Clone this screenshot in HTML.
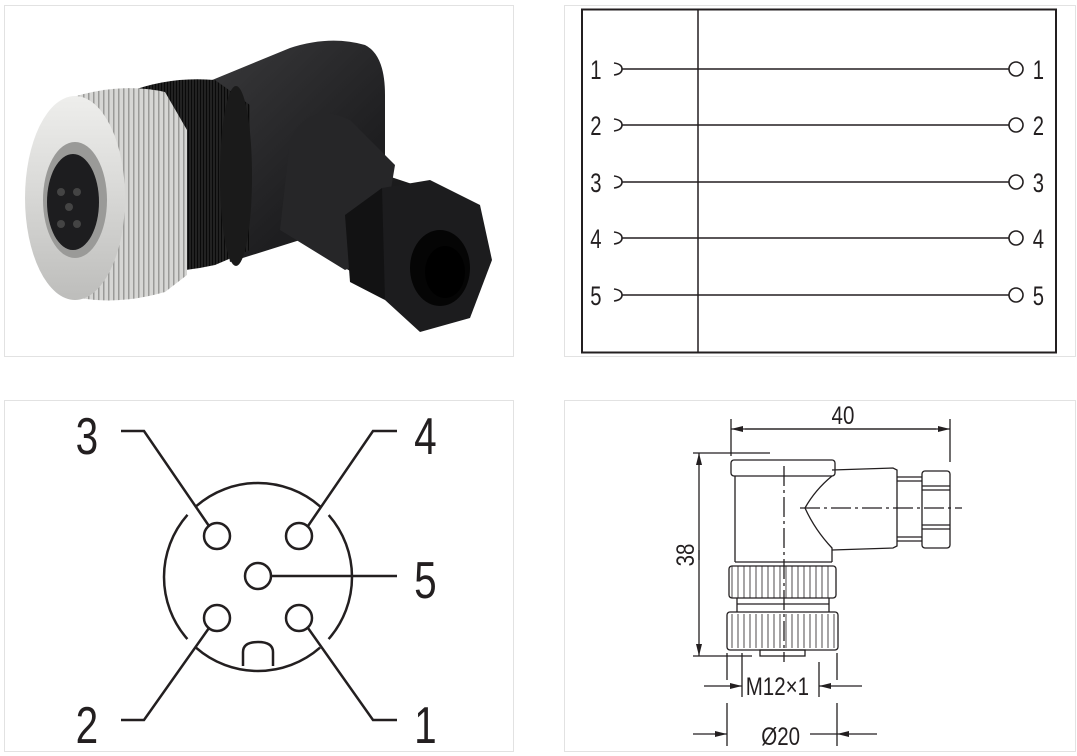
<!DOCTYPE html>
<html><head><meta charset="utf-8"><style>
html,body{margin:0;padding:0;background:#fff;}
svg{display:block;}
text{font-family:"Liberation Sans",sans-serif;fill:#231f20;}
</style></head><body>
<svg width="1077" height="756" viewBox="0 0 1077 756" xmlns="http://www.w3.org/2000/svg">
<defs>
<linearGradient id="silver" x1="0" y1="0" x2="0" y2="1">
<stop offset="0" stop-color="#eeeeec"/><stop offset="0.4" stop-color="#dcdcda"/><stop offset="1" stop-color="#bdbdbb"/>
</linearGradient>
<linearGradient id="blk" x1="0" y1="0" x2="1" y2="1">
<stop offset="0" stop-color="#3a3a3c"/><stop offset="0.5" stop-color="#1f1f21"/><stop offset="1" stop-color="#111"/>
</linearGradient>
<pattern id="knurl" width="5" height="10" patternUnits="userSpaceOnUse">
<rect width="5" height="10" fill="#d6d6d4"/><rect x="3" width="1.5" height="10" fill="#9a9a98"/>
</pattern>
<pattern id="knurlb" width="3" height="10" patternUnits="userSpaceOnUse">
<rect width="3" height="10" fill="#222"/><rect x="2" width="1" height="10" fill="#0a0a0a"/>
</pattern>
<marker id="ar" markerWidth="12" markerHeight="8" refX="12" refY="4" orient="auto" markerUnits="userSpaceOnUse">
<path d="M0,1 L12,4 L0,7 z" fill="#231f20"/>
</marker>
</defs>

<rect x="4.5" y="5.5" width="509" height="351" fill="#fff" stroke="#e2e2e2"/>
<rect x="564.5" y="5.5" width="511" height="351" fill="#fff" stroke="#e2e2e2"/>
<rect x="4.5" y="400.5" width="509" height="351" fill="#fff" stroke="#e2e2e2"/>
<rect x="564.5" y="400.5" width="511" height="351" fill="#fff" stroke="#e2e2e2"/>

<!-- PHOTO -->
<g>
<path d="M200,85 L290,48 Q330,35 365,45 Q385,55 385,95 L385,175 L430,190 L470,230 L430,300 L400,300 L345,268 Q330,255 300,240 L230,262 Z" fill="url(#blk)"/>
<path d="M290,140 Q310,100 350,120 L395,165 L380,255 L345,270 L280,230 Z" fill="#262628"/>
<path d="M382,188 L430,180 L480,205 L492,260 L470,318 L420,332 L385,300 L372,240 Z" fill="#1c1c1e"/>
<path d="M345,215 L382,188 L385,300 L350,282 Z" fill="#121213"/>
<ellipse cx="440" cy="268" rx="30" ry="38" fill="#050505"/>
<ellipse cx="445" cy="272" rx="20" ry="26" fill="#000"/>
<path d="M128,92 Q170,76 215,80 L250,105 L250,250 L215,265 Q170,275 130,270 Z" fill="url(#knurlb)"/>
<ellipse cx="236" cy="176" rx="16" ry="90" fill="#1a1a1a"/>
<path d="M70,98 Q120,82 165,92 L187,130 L187,275 L165,292 Q120,305 80,298 Z" fill="url(#knurl)"/>
<ellipse cx="75" cy="198" rx="50" ry="102" fill="url(#silver)"/>
<ellipse cx="75" cy="200" rx="32" ry="58" fill="#9a9a98"/>
<ellipse cx="73" cy="202" rx="26" ry="48" fill="#1d1d1f"/>
<circle cx="61" cy="192" r="4" fill="#444"/><circle cx="77" cy="192" r="4" fill="#444"/>
<circle cx="69" cy="207" r="4" fill="#444"/><circle cx="61" cy="224" r="4" fill="#444"/><circle cx="77" cy="224" r="4" fill="#444"/>
</g>

<!-- WIRING -->
<rect x="582" y="9.5" width="474" height="343" fill="none" stroke="#231f20" stroke-width="2"/>
<line x1="698" y1="9" x2="698" y2="353" stroke="#231f20" stroke-width="1.5"/>
<g stroke="#231f20" stroke-width="1.6" fill="none">
<g id="row">
<path d="M614,63 Q622,64 622,69 Q622,74 614,75"/>
<line x1="622" y1="69" x2="1009" y2="69"/>
<circle cx="1016" cy="69" r="7"/>
</g>
<use href="#row" y="56"/><use href="#row" y="113"/><use href="#row" y="169"/><use href="#row" y="226"/>
</g>
<g font-size="27" transform="scale(0.75,1)">
<text x="787" y="79">1</text><text x="1377" y="79">1</text>
<text x="787" y="135">2</text><text x="1377" y="135">2</text>
<text x="787" y="192">3</text><text x="1377" y="192">3</text>
<text x="787" y="248">4</text><text x="1377" y="248">4</text>
<text x="787" y="305">5</text><text x="1377" y="305">5</text>
</g>

<!-- PIN LAYOUT -->
<g stroke="#231f20" stroke-width="2.5" fill="none">
<circle cx="258" cy="577" r="94" stroke-dasharray="135.65 12" stroke-dashoffset="67.85"/>
<path d="M243,666 L243,652 Q243,642 258,642 Q273,642 273,652 L273,666" fill="#fff"/>
<circle cx="217" cy="536" r="13"/><circle cx="299" cy="536" r="13"/>
<circle cx="258" cy="576" r="13"/>
<circle cx="217" cy="618" r="13"/><circle cx="299" cy="618" r="13"/>
<path d="M121,431 L144,431 L209,526"/>
<path d="M397,431 L373,431 L308,526"/>
<path d="M271,576 L397,576"/>
<path d="M121,720 L144,720 L209,628"/>
<path d="M397,720 L373,720 L308,628"/>
</g>
<g font-size="52" transform="scale(0.78,1)">
<text x="97" y="454">3</text>
<text x="531" y="454">4</text>
<text x="531" y="598">5</text>
<text x="97" y="743">2</text>
<text x="531" y="743">1</text>
</g>

<!-- DIMENSION DRAWING -->
<g stroke="#231f20" stroke-width="1.3" fill="none">
<line x1="731" y1="419" x2="731" y2="456"/>
<line x1="950" y1="419" x2="950" y2="462"/>
<line x1="745" y1="429" x2="950" y2="429" marker-end="url(#ar)"/>
<line x1="936" y1="429" x2="731" y2="429" marker-end="url(#ar)"/>
<line x1="693" y1="453" x2="770" y2="453"/>
<line x1="693" y1="656" x2="752" y2="656"/>
<line x1="699" y1="560" x2="699" y2="453" marker-end="url(#ar)"/>
<line x1="699" y1="550" x2="699" y2="656" marker-end="url(#ar)"/>
<rect x="731" y="460" width="104" height="16" rx="3"/>
<path d="M735,476 L735,562 M832,476 Q815,490 805,508 Q815,530 832,548 L832,562"/>
<path d="M832,470 L893,468 L897,470 L897,546 L893,548 L832,550"/>
<line x1="897" y1="477" x2="922" y2="477"/><line x1="897" y1="481" x2="922" y2="481"/>
<line x1="897" y1="537" x2="922" y2="537"/><line x1="897" y1="541" x2="922" y2="541"/>
<rect x="922" y="471" width="28" height="77" rx="3"/>
<line x1="922" y1="486" x2="950" y2="486"/><line x1="922" y1="490" x2="950" y2="490"/>
<line x1="922" y1="525" x2="950" y2="525"/><line x1="922" y1="529" x2="950" y2="529"/>
<line x1="735" y1="562" x2="832" y2="562"/>
<rect x="729" y="566" width="107" height="32" rx="3"/>
<path d="M737,598 L737,612 M829,598 L829,612 M737,604 L829,604"/>
<rect x="727" y="612" width="111" height="38" rx="3"/>
<rect x="760" y="650" width="45" height="6"/>
<line x1="784" y1="466" x2="784" y2="662" stroke-dasharray="20 4 3 4"/>
<line x1="800" y1="508" x2="962" y2="508" stroke-dasharray="20 4 3 4"/>
<line x1="727" y1="653" x2="727" y2="680"/>
<line x1="742" y1="653" x2="742" y2="697"/>
<line x1="819" y1="662" x2="819" y2="697"/>
<line x1="837" y1="653" x2="837" y2="680"/>
<line x1="704" y1="686" x2="742" y2="686" marker-end="url(#ar)"/>
<line x1="862" y1="686" x2="819" y2="686" marker-end="url(#ar)"/>
<line x1="727" y1="703" x2="727" y2="746"/>
<line x1="837" y1="703" x2="837" y2="746"/>
<line x1="693" y1="734" x2="727" y2="734" marker-end="url(#ar)"/>
<line x1="877" y1="734" x2="837" y2="734" marker-end="url(#ar)"/>
<line x1="810" y1="734" x2="837" y2="734"/>
</g>
<g stroke="#231f20" stroke-width="0.8">
<path d="M732,566v32M738,566v32M744,566v32M750,566v32M756,566v32M762,566v32M768,566v32M774,566v32M780,566v32M786,566v32M792,566v32M798,566v32M804,566v32M810,566v32M816,566v32M822,566v32M828,566v32"/>
<path d="M732,614v34M738,614v34M744,614v34M750,614v34M756,614v34M762,614v34M768,614v34M774,614v34M780,614v34M786,614v34M792,614v34M798,614v34M804,614v34M810,614v34M816,614v34M822,614v34M828,614v34M834,614v34"/>
</g>
<g font-size="25" transform="scale(0.82,1)">
<text x="1028" y="424" text-anchor="middle">40</text>
<text x="948" y="695" text-anchor="middle">M12×1</text>
<text x="952" y="745" text-anchor="middle">Ø20</text>
</g>
<text font-size="25" transform="translate(694,555) rotate(-90) scale(0.82,1)" text-anchor="middle">38</text>
</svg>
</body></html>
